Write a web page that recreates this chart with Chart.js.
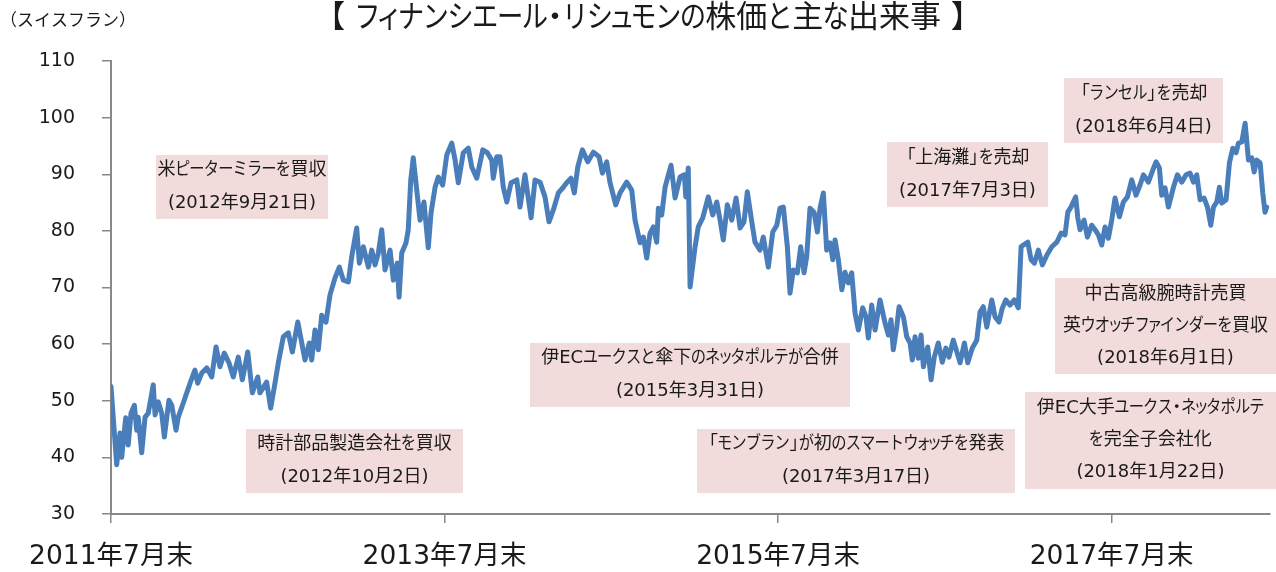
<!DOCTYPE html>
<html lang="ja">
<head>
<meta charset="utf-8">
<title>フィナンシエール・リシュモンの株価</title>
<script src="https://cdn.jsdelivr.net/npm/chart.js@4.4.1/dist/chart.umd.min.js"></script>
<style>
  html, body { margin: 0; padding: 0; background: #fff; }
  #wrap { width: 1276px; height: 572px; }
</style>
</head>
<body>
<div id="wrap"><canvas id="chart" width="1276" height="572"></canvas></div>
<script>
// months after end of July 2011
const months = [
  0, 0.41, 0.65, 0.77, 1.06, 1.24, 1.44, 1.68, 1.85, 1.96,
  2.21, 2.45, 2.68, 3.04, 3.17, 3.40, 3.65, 3.84, 4.17, 4.37,
  4.68, 4.84, 5.20, 5.45, 5.69, 6.04, 6.24, 6.53, 6.89, 7.25,
  7.56, 7.84, 8.15, 8.49, 8.80, 9.16, 9.45, 9.84, 10.17, 10.56,
  10.72, 11.20, 11.49, 11.80, 12.04, 12.40, 12.76, 13.05, 13.44, 13.96,
  14.27, 14.44, 14.68, 14.92, 15.16, 15.47, 15.76, 16.12, 16.43, 16.72,
  17.08, 17.32, 17.68, 17.87, 18.16, 18.52, 18.76, 19.00, 19.24, 19.48,
  19.72, 20.08, 20.32, 20.60, 20.73, 20.92, 21.23, 21.39, 21.57, 21.75,
  22.00, 22.24, 22.52, 22.83, 23.03, 23.32, 23.55, 23.87, 24.16, 24.52,
  24.76, 24.99, 25.35, 25.71, 25.96, 26.32, 26.75, 27.08, 27.40, 27.51,
  27.76, 27.99, 28.23, 28.48, 28.79, 29.20, 29.43, 29.79, 30.23, 30.51,
  30.87, 31.23, 31.52, 31.83, 32.19, 32.55, 32.79, 33.10, 33.34, 33.59,
  33.92, 34.31, 34.71, 35.12, 35.36, 35.67, 35.91, 36.32, 36.63, 37.11,
  37.47, 37.71, 38.07, 38.31, 38.55, 38.79, 39.03, 39.27, 39.39, 39.63,
  39.87, 40.30, 40.59, 40.95, 41.26, 41.36, 41.54, 41.67, 42.03, 42.26,
  42.58, 42.98, 43.30, 43.59, 43.83, 44.06, 44.35, 44.67, 44.98, 45.27,
  45.55, 45.79, 46.11, 46.34, 46.70, 46.94, 47.30, 47.62, 47.91, 48.14,
  48.38, 48.67, 48.86, 49.10, 49.39, 49.63, 49.87, 50.06, 50.30, 50.59,
  50.83, 51.02, 51.26, 51.50, 51.74, 51.94, 52.10, 52.34, 52.59, 52.82,
  53.06, 53.30, 53.54, 53.78, 54.09, 54.33, 54.50, 54.74, 54.98, 55.34,
  55.70, 55.94, 56.13, 56.29, 56.54, 56.71, 57.02, 57.26, 57.50, 57.66,
  57.86, 58.09, 58.29, 58.46, 58.77, 59.01, 59.24, 59.53, 59.82, 60.07,
  60.30, 60.61, 60.93, 61.10, 61.41, 61.65, 61.98, 62.30, 62.54, 62.77,
  63.02, 63.38, 63.62, 63.90, 64.14, 64.39, 64.69, 65.00, 65.29, 65.49,
  65.65, 65.97, 66.21, 66.45, 66.73, 67.02, 67.34, 67.70, 68.06, 68.37,
  68.65, 68.85, 69.08, 69.42, 69.57, 69.73, 70.02, 70.26, 70.57, 70.81,
  71.05, 71.29, 71.53, 71.77, 72.01, 72.25, 72.56, 72.85, 73.14, 73.45,
  73.76, 74.05, 74.29, 74.65, 74.96, 75.20, 75.44, 75.61, 75.85, 76.09,
  76.45, 76.74, 77.05, 77.36, 77.65, 77.89, 78.13, 78.37, 78.66, 78.90,
  79.14, 79.33, 79.57, 79.76, 79.93, 80.24, 80.48, 80.72, 80.96, 81.13,
  81.37, 81.61, 81.85, 82.09, 82.26, 82.45, 82.69, 82.88, 83.04, 83.16
];

// share price, CHF
const price = [
  52.5, 38.7, 44.3, 40, 47, 42.2, 47.8, 49.2, 44.8, 47.1,
  40.8, 47.1, 47.8, 52.8, 47.5, 49.8, 47.8, 43.6, 50.1, 49.2,
  44.8, 47.1, 49.6, 51.4, 53.1, 55.4, 53.1, 54.9, 55.8, 54.2,
  59.5, 56, 58.4, 56.7, 54.2, 57.7, 53.7, 58.6, 51.4, 54.2,
  51.4, 53.3, 48.7, 53.1, 56.7, 61.3, 62, 58.6, 63.9, 57.2,
  60.2, 57.2, 62.5, 59, 65.1, 63.9, 68.7, 71.7, 73.6, 71.3,
  71, 75.4, 80.5, 74.3, 77.2, 73.6, 76.6, 74, 76.1, 80.2,
  73.1, 76.6, 71.3, 74.3, 68.3, 76.1, 77.9, 80.2, 89, 92.9,
  87.2, 81.9, 85.1, 77, 83.2, 87.7, 89.5, 88.1, 93.4, 95.5,
  92.5, 88.5, 93.8, 94.6, 91.3, 89.3, 94.3, 93.8, 92.5, 89.3,
  93.1, 93.1, 87.7, 85.1, 88.5, 89, 84.2, 89.9, 82.3, 89,
  88.6, 86, 81.6, 83.7, 86.7, 87.7, 88.5, 89.3, 86.7, 91.3,
  94.3, 92.2, 93.9, 93.1, 90.2, 92.2, 88.5, 84.6, 86.7, 88.6,
  87.2, 81.9, 77.9, 78.9, 75.2, 79.6, 80.7, 78, 84, 82.8,
  87.7, 91.6, 85.8, 89.5, 89.9, 86, 91.1, 70.1, 77.2, 80.7,
  82.3, 86, 82.8, 85.1, 81.9, 78.4, 84.6, 81.9, 85.8, 80.5,
  81.6, 86.9, 81.6, 78, 76.6, 78.9, 73.6, 79.8, 81, 84,
  84.2, 77.2, 69, 73.1, 72.6, 77.2, 72.6, 75.4, 84, 83.3,
  79.8, 84, 86.7, 76.6, 77.9, 74.9, 78.4, 74.9, 69.6, 72.7,
  70.8, 72.6, 65.5, 62.5, 66.4, 64.8, 61.1, 66.9, 62.5, 67.8,
  63.7, 61.6, 64.3, 59, 63, 66.6, 64.8, 61.3, 60.2, 57.2,
  61.3, 57.5, 61.6, 56, 59.5, 53.7, 57.7, 60.2, 56.8, 59.3,
  57.7, 60.7, 58.1, 56.7, 60.2, 56.7, 59.3, 60.7, 65.7, 66.6,
  63, 67.8, 64.8, 63.9, 66.4, 67.8, 66.9, 67.8, 66.4, 77.2,
  77.5, 78, 74.9, 74.3, 76.6, 74, 75.7, 77.2, 78, 79.6,
  79.3, 83.3, 84.2, 86, 82.3, 80.2, 81.9, 78.9, 81, 80.2,
  79.3, 77.5, 80.7, 78.7, 81.9, 85.8, 82.5, 85.1, 86, 89,
  86.3, 88.1, 89.9, 88.6, 90.7, 92.2, 91.1, 86.3, 87.6, 84.2,
  87.7, 89.9, 88.6, 89.9, 90.2, 88.6, 89.9, 85.5, 85.8, 84.2,
  81, 84.2, 85.1, 87.7, 84.9, 85.5, 92, 94.6, 93.8, 95.5,
  95.7, 99, 92.5, 92.9, 90.4, 92.5, 92, 86.7, 83.3, 84.2
];

const xTickMonths = [0, 24, 48, 72];
const xTickLabels = ['2011年7月末', '2013年7月末', '2015年7月末', '2017年7月末'];
const xMax = 83.4;
const yMin = 30;
const yMax = 110;
const yStep = 10;

const chartTitle = '【 フィナンシエール・リシュモンの株価と主な出来事 】';
const unitLabel = '（スイスフラン）';

// event boxes (text + where the box sits on the canvas)
const notes = [
  { lines: ['米ピーターミラーを買収', '(2012年9月21日)'], x: 156, y: 155, w: 172, h: 64 },
  { lines: ['時計部品製造会社を買収', '(2012年10月2日)'], x: 246, y: 429, w: 217, h: 64 },
  { lines: ['伊ECユークスと傘下のネッタポルテが合併', '(2015年3月31日)'], x: 530, y: 343, w: 320, h: 64 },
  { lines: ['「モンブラン」が初のスマートウォッチを発表', '(2017年3月17日)'], x: 697, y: 429, w: 318, h: 64 },
  { lines: ['「上海灘」を売却', '(2017年7月3日)'], x: 887, y: 142, w: 161, h: 65 },
  { lines: ['「ランセル」を売却', '(2018年6月4日)'], x: 1064, y: 78, w: 159, h: 65 },
  { lines: ['中古高級腕時計売買', '英ウオッチファインダーを買収', '(2018年6月1日)'], x: 1055, y: 278, w: 221, h: 96 },
  { lines: ['伊EC大手ユークス・ネッタポルテ', 'を完全子会社化', '(2018年1月22日)'], x: 1025, y: 392, w: 251, h: 97 }
];

const FONT = '"DejaVu Sans", "Noto Sans CJK JP", sans-serif';
const TEXT = '#1a1a1a';
const AXIS = '#888888';
const LINE = '#4a7ebb';
const BOX = '#f2dcdb';

Chart.defaults.font.family = FONT;
Chart.defaults.color = TEXT;

// kana set a little narrower, the way the original UI font does it
const SMALL_KANA = 'ァィゥェォッャュョヮぁぃぅぇぉっゃゅょ';
function glyphBox(ch, em) {
  if (ch === '「') return { adv: 0.55 * em, dx: -0.42 * em };
  if (ch === '」') return { adv: 0.55 * em, dx: 0 };
  if (ch === '・') return { adv: 0.5 * em, dx: -0.25 * em };
  if (SMALL_KANA.includes(ch)) return { adv: 0.6 * em, sx: 0.85 };
  if (/[\u3040-\u30ff]/.test(ch)) return { adv: 0.8 * em, sx: 0.85 };
  return null;
}

function drawText(ctx, text, x, y, size, align) {
  ctx.font = size + 'px ' + FONT;
  const pieces = [];
  let run = '';
  for (const ch of text) {
    const g = glyphBox(ch, size);
    if (g) {
      if (run) { pieces.push({ run }); run = ''; }
      pieces.push(Object.assign({ ch }, g));
    } else {
      run += ch;
    }
  }
  if (run) pieces.push({ run });
  pieces.forEach(p => { if (p.run) p.adv = ctx.measureText(p.run).width; });
  const total = pieces.reduce((s, p) => s + p.adv, 0);
  let cx = align === 'center' ? x - total / 2 : align === 'right' ? x - total : x;
  ctx.textAlign = 'left';
  pieces.forEach(p => {
    if (p.run) {
      ctx.fillText(p.run, cx, y);
    } else if (p.sx) {
      ctx.save();
      ctx.translate(cx + p.adv / 2, y);
      ctx.scale(p.sx, 1);
      ctx.textAlign = 'center';
      ctx.fillText(p.ch, 0, 0);
      ctx.restore();
    } else {
      ctx.fillText(p.ch, cx + p.dx, y);
    }
    cx += p.adv;
  });
}

// title, unit and event boxes
const overlay = {
  id: 'overlay',
  afterDraw(chart) {
    const ctx = chart.ctx;
    ctx.save();
    ctx.textBaseline = 'middle';
    ctx.fillStyle = TEXT;

    drawText(ctx, chartTitle, 648, 19, 31, 'center');

    ctx.font = '17px ' + FONT;
    ctx.textAlign = 'left';
    ctx.fillText(unitLabel, 0, 22);

    notes.forEach(n => {
      ctx.fillStyle = BOX;
      ctx.fillRect(n.x, n.y, n.w, n.h);
      ctx.fillStyle = TEXT;
      const gap = n.lines.length > 2 ? 32 : 33;
      const cy = n.y + n.h / 2;
      n.lines.forEach((t, i) => {
        drawText(ctx, t, n.x + n.w / 2, cy + (i - (n.lines.length - 1) / 2) * gap, 18, 'center');
      });
    });
    ctx.restore();
  }
};

new Chart(document.getElementById('chart'), {
  type: 'line',
  data: {
    datasets: [{
      label: 'リシュモン株価',
      data: months.map((m, i) => ({ x: m, y: price[i] })),
      borderColor: LINE,
      borderWidth: 5,
      pointRadius: 0,
      tension: 0,
      fill: false,
      borderJoinStyle: 'round',
      borderCapStyle: 'round'
    }]
  },
  options: {
    responsive: false,
    animation: false,
    devicePixelRatio: 1,
    layout: { padding: { top: 61, right: 6, left: 0, bottom: 0 } },
    plugins: {
      legend: { display: false },
      tooltip: { enabled: false },
      title: { display: false }
    },
    scales: {
      x: {
        type: 'linear',
        min: 0,
        max: xMax,
        afterBuildTicks: s => { s.ticks = xTickMonths.map(v => ({ value: v })); },
        afterFit: s => { s.height = 58; },
        ticks: {
          callback: v => xTickLabels[xTickMonths.indexOf(v)] || '',
          font: { size: 26.5 },
          color: TEXT,
          padding: 18,
          maxRotation: 0
        },
        grid: { drawOnChartArea: false, drawTicks: true, tickLength: 9, color: AXIS, lineWidth: 1.5 },
        border: { display: true, color: AXIS, width: 2 }
      },
      y: {
        min: yMin,
        max: yMax,
        afterFit: s => { s.width = 111; },
        ticks: {
          stepSize: yStep,
          font: { size: 19 },
          color: TEXT,
          padding: 27
        },
        grid: { drawOnChartArea: false, drawTicks: true, tickLength: 9, color: AXIS, lineWidth: 1.5 },
        border: { display: true, color: AXIS, width: 2 }
      }
    }
  },
  plugins: [overlay]
});
</script>
</body>
</html>
